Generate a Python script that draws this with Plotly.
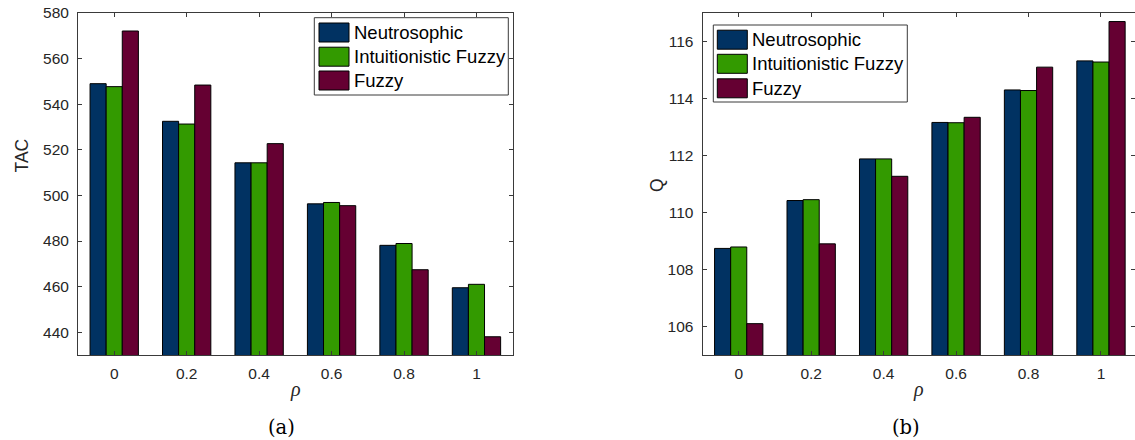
import plotly.graph_objects as go

# ---- data ----
rho = [0, 0.2, 0.4, 0.6, 0.8, 1]
rho_labels = ["0", "0.2", "0.4", "0.6", "0.8", "1"]
series_names = ["Neutrosophic", "Intuitionistic Fuzzy", "Fuzzy"]
series_colors = ["#013262", "#339a00", "#650032"]

tac_neutrosophic = [549.0, 532.5, 514.3, 496.3, 478.1, 459.5]
tac_intuitionistic = [547.7, 531.3, 514.3, 496.9, 478.9, 461.0]
tac_fuzzy = [572.1, 548.4, 522.7, 495.5, 467.4, 438.0]

q_neutrosophic = [108.74, 110.42, 111.88, 113.16, 114.30, 115.32]
q_intuitionistic = [108.79, 110.45, 111.88, 113.15, 114.28, 115.28]
q_fuzzy = [106.10, 108.90, 111.27, 113.34, 115.10, 116.70]

tac_ticks = [440, 460, 480, 500, 520, 540, 560, 580]
q_ticks = [106, 108, 110, 112, 114, 116]

# ---- page geometry (pixels) ----
W, H = 1135, 440
T, B = 13, 85


def px(x):
    return x / W


def py(y):
    return (H - B - y) / (H - T - B)


AX = "#3a3a3a"
SANS = "Liberation Sans, Arial, sans-serif"
TICK_FONT = dict(family=SANS, size=15.5, color="#262626")

fig = go.Figure()

for vals, name, col in zip([tac_neutrosophic, tac_intuitionistic, tac_fuzzy], series_names, series_colors):
    fig.add_trace(go.Bar(x=rho, y=vals, name=name, marker=dict(color=col, line=dict(color="black", width=1)),
                         xaxis="x", yaxis="y", showlegend=False))
for vals, name, col in zip([q_neutrosophic, q_intuitionistic, q_fuzzy], series_names, series_colors):
    fig.add_trace(go.Bar(x=rho, y=vals, name=name, marker=dict(color=col, line=dict(color="black", width=1)),
                         xaxis="x2", yaxis="y2", showlegend=False))

axis_common = dict(showline=True, linecolor=AX, linewidth=1, mirror="ticks", ticks="inside",
                   ticklen=4, tickcolor=AX, showgrid=False, zeroline=False, tickfont=TICK_FONT)

fig.update_layout(
    width=W, height=H,
    margin=dict(l=0, r=0, t=T, b=B),
    paper_bgcolor="white", plot_bgcolor="white",
    barmode="group", bargap=0.333, bargroupgap=0,
    xaxis=dict(domain=[px(78), px(512.7)], range=[-0.1, 1.1], tickvals=rho, ticktext=rho_labels,
               anchor="y", ticklabelstandoff=4, **axis_common),
    yaxis=dict(domain=[0, 1], range=[430, 580], tickvals=tac_ticks, anchor="x",
               ticklabelstandoff=5, **axis_common),
    xaxis2=dict(domain=[px(702.5), 1.0], range=[-0.1, 1.0939], tickvals=rho, ticktext=rho_labels,
                anchor="y2", ticklabelstandoff=4, **axis_common),
    yaxis2=dict(domain=[0, 1], range=[105, 117], tickvals=q_ticks, anchor="x2",
                ticklabelstandoff=5, **axis_common),
)

annotations = []
shapes = []

# axis titles and panel captions
annotations += [
    dict(x=px(21.5), y=py(156), text="TAC", textangle=-90, showarrow=False, xref="paper", yref="paper",
         xanchor="center", yanchor="middle", font=dict(family=SANS, size=17.5, color="#262626")),
    dict(x=px(656.5), y=py(185.5), text="Q", textangle=-90, showarrow=False, xref="paper", yref="paper",
         xanchor="center", yanchor="middle", font=dict(family=SANS, size=17.5, color="#262626")),
    dict(x=px(295), y=py(389), text="<i>ρ</i>", showarrow=False, xref="paper", yref="paper",
         xanchor="center", yanchor="middle", font=dict(family="Liberation Serif, serif", size=20, color="#262626")),
    dict(x=px(918.5), y=py(389), text="<i>ρ</i>", showarrow=False, xref="paper", yref="paper",
         xanchor="center", yanchor="middle", font=dict(family="Liberation Serif, serif", size=20, color="#262626")),
    dict(x=px(281.5), y=py(427), text="(a)", showarrow=False, xref="paper", yref="paper",
         xanchor="center", yanchor="middle", font=dict(family="DejaVu Serif, serif", size=19.5, color="black")),
    dict(x=px(906), y=py(427), text="(b)", showarrow=False, xref="paper", yref="paper",
         xanchor="center", yanchor="middle", font=dict(family="DejaVu Serif, serif", size=19.5, color="black")),
]


def add_legend(box_x0, box_x1, box_y0, box_y1, sw_x0, row_centres):
    shapes.append(dict(type="rect", xref="paper", yref="paper", x0=px(box_x0), x1=px(box_x1),
                       y0=py(box_y0), y1=py(box_y1), line=dict(color=AX, width=1), fillcolor="white", layer="above"))
    for name, col, yc in zip(series_names, series_colors, row_centres):
        shapes.append(dict(type="rect", xref="paper", yref="paper", x0=px(sw_x0), x1=px(sw_x0 + 30),
                           y0=py(yc - 9.5), y1=py(yc + 9.5), line=dict(color="black", width=1),
                           fillcolor=col, layer="above"))
        annotations.append(dict(x=px(sw_x0 + 33), y=py(yc), text=name, showarrow=False, xref="paper",
                                yref="paper", xanchor="left", yanchor="middle",
                                font=dict(family=SANS, size=18.5, color="black")))


add_legend(314.3, 508.3, 17.7, 95, 319, [32.5, 56.7, 80.5])
add_legend(713.3, 907.3, 25, 102, 717.3, [39.7, 63.8, 88.3])

fig.update_layout(annotations=annotations, shapes=shapes)

fig.write_html("out.html")
